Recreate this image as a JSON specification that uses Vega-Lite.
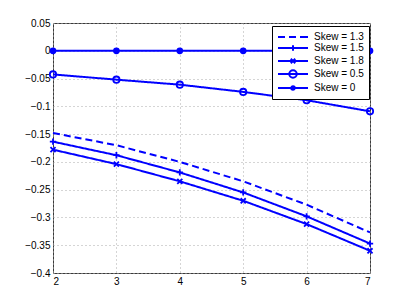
{
  "$schema": "https://vega.github.io/schema/vega-lite/v6.json",
  "width": 317,
  "height": 250,
  "autosize": "none",
  "padding": {"left": 53, "top": 23, "right": 39, "bottom": 34},
  "background": "white",
  "config": {
    "font": "Liberation Sans",
    "view": {"stroke": "#3a3a3a", "strokeWidth": 1},
    "axis": {
      "domain": false,
      "ticks": false,
      "grid": true,
      "gridColor": "#aaaaaa",
      "gridDash": [1, 3],
      "gridWidth": 1,
      "labelFont": "Liberation Sans",
      "labelFontSize": 10,
      "labelColor": "#000000",
      "title": null
    }
  },
  "resolve": {"scale": {"shape": "independent", "size": "independent"}, "legend": {"shape": "independent"}},
  "data": {
    "values": [
      {"x": 2, "y": -0.148, "series": "Skew = 1.3"},
      {"x": 3, "y": -0.170, "series": "Skew = 1.3"},
      {"x": 4, "y": -0.200, "series": "Skew = 1.3"},
      {"x": 5, "y": -0.235, "series": "Skew = 1.3"},
      {"x": 6, "y": -0.277, "series": "Skew = 1.3"},
      {"x": 7, "y": -0.327, "series": "Skew = 1.3"},
      {"x": 2, "y": -0.1636, "series": "Skew = 1.5"},
      {"x": 3, "y": -0.188, "series": "Skew = 1.5"},
      {"x": 4, "y": -0.219, "series": "Skew = 1.5"},
      {"x": 5, "y": -0.255, "series": "Skew = 1.5"},
      {"x": 6, "y": -0.298, "series": "Skew = 1.5"},
      {"x": 7, "y": -0.347, "series": "Skew = 1.5"},
      {"x": 2, "y": -0.178, "series": "Skew = 1.8"},
      {"x": 3, "y": -0.204, "series": "Skew = 1.8"},
      {"x": 4, "y": -0.235, "series": "Skew = 1.8"},
      {"x": 5, "y": -0.270, "series": "Skew = 1.8"},
      {"x": 6, "y": -0.312, "series": "Skew = 1.8"},
      {"x": 7, "y": -0.360, "series": "Skew = 1.8"},
      {"x": 2, "y": -0.0425, "series": "Skew = 0.5"},
      {"x": 3, "y": -0.052, "series": "Skew = 0.5"},
      {"x": 4, "y": -0.061, "series": "Skew = 0.5"},
      {"x": 5, "y": -0.074, "series": "Skew = 0.5"},
      {"x": 6, "y": -0.089, "series": "Skew = 0.5"},
      {"x": 7, "y": -0.109, "series": "Skew = 0.5"},
      {"x": 2, "y": 0, "series": "Skew = 0"},
      {"x": 3, "y": 0, "series": "Skew = 0"},
      {"x": 4, "y": 0, "series": "Skew = 0"},
      {"x": 5, "y": 0, "series": "Skew = 0"},
      {"x": 6, "y": 0, "series": "Skew = 0"},
      {"x": 7, "y": 0, "series": "Skew = 0"}
    ]
  },
  "encoding": {
    "x": {
      "field": "x", "type": "quantitative",
      "scale": {"domain": [2, 7], "nice": false, "zero": false},
      "axis": {"values": [2, 3, 4, 5, 6, 7], "format": "d", "labelPadding": 3}
    },
    "y": {
      "field": "y", "type": "quantitative",
      "scale": {"domain": [-0.4, 0.05], "nice": false, "zero": false},
      "axis": {"values": [0.05, 0, -0.05, -0.1, -0.15, -0.2, -0.25, -0.3, -0.35, -0.4], "format": "~g", "labelPadding": 3}
    }
  },
  "layer": [
    {
      "mark": {"type": "line", "color": "#0000ff", "strokeWidth": 2},
      "encoding": {
        "strokeDash": {
          "field": "series", "type": "nominal",
          "scale": {
            "domain": ["Skew = 1.3", "Skew = 1.5", "Skew = 1.8", "Skew = 0.5", "Skew = 0"],
            "range": [[7, 4], [1, 0], [1, 0], [1, 0], [1, 0]]
          },
          "legend": null
        }
      }
    },
    {
      "transform": [{"filter": "datum.series == 'Skew = 1.5' || datum.series == 'Skew = 1.8' || datum.series == 'Skew = 0.5'"}],
      "mark": {"type": "point", "filled": false, "color": "#0000ff", "strokeWidth": 1.8, "opacity": 1},
      "encoding": {
        "shape": {
          "field": "series", "type": "nominal",
          "scale": {
            "domain": ["Skew = 1.5", "Skew = 1.8", "Skew = 0.5"],
            "range": ["M-1,0H1M0,-1V1", "M-0.8,-0.8L0.8,0.8M-0.8,0.8L0.8,-0.8", "circle"]
          },
          "legend": null
        },
        "size": {
          "field": "series", "type": "nominal",
          "scale": {
            "domain": ["Skew = 1.5", "Skew = 1.8", "Skew = 0.5"],
            "range": [40, 40, 60]
          },
          "legend": null
        }
      }
    },
    {
      "transform": [{"filter": "datum.series == 'Skew = 0'"}],
      "mark": {"type": "point", "shape": "circle", "filled": true, "color": "#0000ff", "size": 45, "opacity": 1},
      "encoding": {}
    },
    {
      "mark": {"type": "point", "filled": false, "color": "#0000ff", "strokeWidth": 2, "size": 100, "opacity": 0},
      "encoding": {
        "shape": {
          "field": "series", "type": "nominal",
          "scale": {
            "domain": ["Skew = 1.3", "Skew = 1.5", "Skew = 1.8", "Skew = 0.5", "Skew = 0"],
            "range": [
              "M-1,0H0.4M1.2,0H2.6M3.4,0H5",
              "M-1,0H5M2,-0.55V0.55",
              "M-1,0H5M1.55,-0.45L2.45,0.45M1.55,0.45L2.45,-0.45",
              "M-1,0H5M2.75,0A0.75,0.75,0,1,1,1.25,0A0.75,0.75,0,1,1,2.75,0",
              "M-1,0H5M2.35,0A0.35,0.35,0,1,1,1.65,0A0.35,0.35,0,1,1,2.35,0M2.12,0A0.12,0.12,0,1,1,1.88,0A0.12,0.12,0,1,1,2.12,0"
            ]
          },
          "legend": {
            "title": null,
            "orient": "none",
            "legendX": 219,
            "legendY": 3,
            "padding": 5,
            "strokeColor": "#000000",
            "fillColor": "#ffffff",
            "labelFont": "Liberation Sans",
            "labelFontSize": 10,
            "labelColor": "#000000",
            "labelOffset": 25,
            "labelExpr": "datum.label + '  '",
            "rowPadding": -3.5,
            "symbolSize": 100,
            "symbolStrokeWidth": 2,
            "symbolStrokeColor": "#0000ff",
            "symbolFillColor": "transparent",
            "symbolOpacity": 1
          }
        }
      }
    }
  ]
}
